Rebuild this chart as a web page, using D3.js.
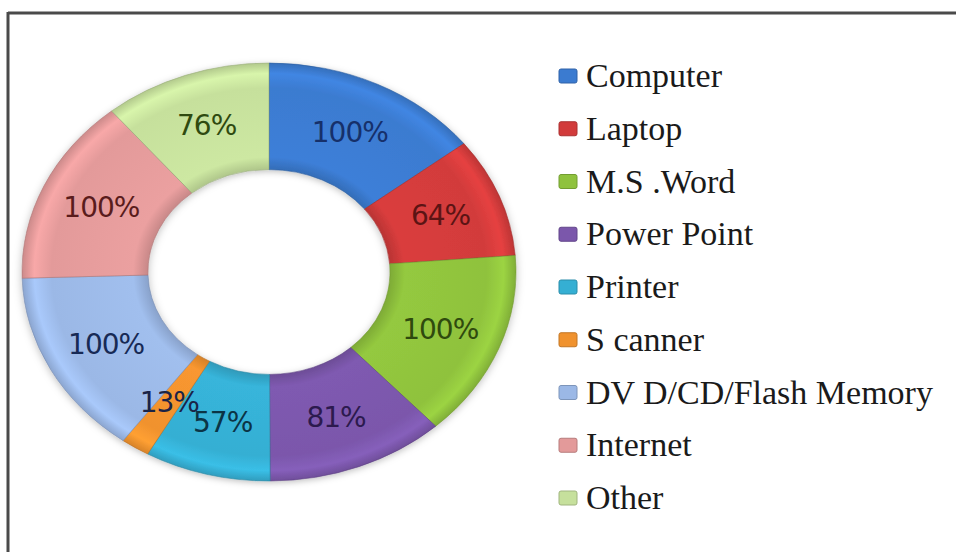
<!DOCTYPE html>
<html>
<head>
<meta charset="utf-8">
<script src="https://cdn.jsdelivr.net/npm/d3@7"></script>
<style>
  html, body { margin: 0; padding: 0; background: #fff; }
  svg { display: block; }
  .legend-text { font-family: "Liberation Serif", "Times New Roman", serif; }
  .slice-label { font-family: "DejaVu Sans", Verdana, sans-serif; }
</style>
</head>
<body>
<div id="chart"></div>
<script>
// chart values
const categories = ['Computer', 'Laptop', 'M.S.Word', 'Power Point', 'Printer', 'Scanner',
  'DVD/CD/Flash Memory', 'Internet', 'Other'];
const legendLabels = ['Computer', 'Laptop', 'M.S .Word', 'Power Point', 'Printer', 'S canner',
  'DV D/CD/Flash Memory', 'Internet', 'Other'];
const values = [100, 64, 100, 81, 57, 13, 100, 100, 76];
const sliceLabels = values.map((v) => v + '%');

// styling
const sliceColors = ['#3b7bd0', '#d23b3b', '#8fc23d', '#7b57ab', '#35afd3', '#f0922e',
  '#9bb8e6', '#e39a9a', '#c6e09c'];
const labelColors = ['#16306a', '#5c1414', '#2f4a0e', '#2c1a4e', '#0b3446', '#1a2346',
  '#172a55', '#5a1c1c', '#2f4a10'];

const width = 956;
const height = 552;
const center = { x: 269, y: 272 };
const outerR = 247;
const innerR = outerR * 0.49;
const squash = 209 / 247;

const svg = d3.select('#chart')
  .append('svg')
  .attr('width', width)
  .attr('height', height);

const defs = svg.append('defs');

// soft shadow around the ring
const shadow = defs.append('filter')
  .attr('id', 'shadow')
  .attr('x', '-10%').attr('y', '-10%')
  .attr('width', '120%').attr('height', '120%');
shadow.append('feDropShadow')
  .attr('dx', 0).attr('dy', 2)
  .attr('stdDeviation', 4)
  .attr('flood-color', '#000')
  .attr('flood-opacity', 0.25);

// bevel-ish gradient per slice
sliceColors.forEach((c, i) => {
  const base = d3.color(c);
  const g = defs.append('radialGradient')
    .attr('id', 'grad' + i)
    .attr('gradientUnits', 'userSpaceOnUse')
    .attr('cx', 0).attr('cy', 0).attr('r', outerR);
  g.append('stop').attr('offset', innerR / outerR).attr('stop-color', base.darker(0.35));
  g.append('stop').attr('offset', innerR / outerR + 0.06).attr('stop-color', base.brighter(0.1));
  g.append('stop').attr('offset', 0.88).attr('stop-color', base);
  g.append('stop').attr('offset', 0.95).attr('stop-color', base.brighter(0.25));
  g.append('stop').attr('offset', 1).attr('stop-color', base.darker(0.3));
});

// frame lines (top and left only)
svg.append('line')
  .attr('x1', 8).attr('y1', 13).attr('x2', width).attr('y2', 13)
  .attr('stroke', '#4a4a4a').attr('stroke-width', 3);
svg.append('line')
  .attr('x1', 8).attr('y1', 12).attr('x2', 8).attr('y2', height)
  .attr('stroke', '#4a4a4a').attr('stroke-width', 3);

const pie = d3.pie().sort(null).value((d) => d);
const arcs = pie(values);

const arc = d3.arc().innerRadius(innerR).outerRadius(outerR);

const ring = svg.append('g')
  .attr('transform', `translate(${center.x},${center.y}) scale(1,${squash})`)
  .attr('filter', 'url(#shadow)');

ring.selectAll('path')
  .data(arcs)
  .join('path')
  .attr('d', arc)
  .attr('fill', (d, i) => `url(#grad${i})`)
  .attr('stroke', (d, i) => d3.color(sliceColors[i]).darker(0.8))
  .attr('stroke-width', 1)
  .attr('stroke-opacity', 0.6);

// slice labels, placed at the squashed centroid
svg.append('g')
  .selectAll('text')
  .data(arcs)
  .join('text')
  .attr('class', 'slice-label')
  .attr('x', (d) => center.x + arc.centroid(d)[0])
  .attr('y', (d) => center.y + arc.centroid(d)[1] * squash)
  .attr('text-anchor', 'middle')
  .attr('dominant-baseline', 'central')
  .attr('font-size', 28)
  .attr('letter-spacing', -1)
  .attr('fill', (d, i) => labelColors[i])
  .text((d, i) => sliceLabels[i]);

// legend
const legendY = d3.scalePoint()
  .domain(categories)
  .range([76, 498]);

const legend = svg.append('g')
  .selectAll('g')
  .data(categories)
  .join('g')
  .attr('transform', (d) => `translate(0,${legendY(d)})`);

legend.append('rect')
  .attr('x', 559).attr('y', -7)
  .attr('width', 18).attr('height', 14)
  .attr('rx', 2)
  .attr('fill', (d, i) => sliceColors[i])
  .attr('stroke', (d, i) => d3.color(sliceColors[i]).darker(0.6))
  .attr('stroke-width', 1);

legend.append('text')
  .attr('class', 'legend-text')
  .attr('x', 586)
  .attr('y', 11)
  .attr('font-size', 34)
  .attr('fill', '#1a1a1a')
  .text((d, i) => legendLabels[i]);
</script>
</body>
</html>
